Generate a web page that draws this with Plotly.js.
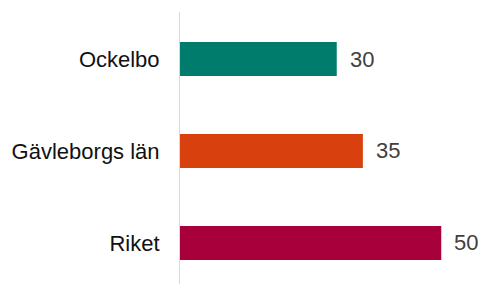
<!DOCTYPE html>
<html><head><meta charset="utf-8">
<script src="https://cdn.plot.ly/plotly-3.0.1.min.js"></script>
<style>html,body{margin:0;padding:0;background:#fff}</style>
</head><body><div id="chart" style="width:484px;height:284px"></div>
<script>
const categories = ["Ockelbo", "Gävleborgs län", "Riket"];
const values = [30, 35, 50];
const labels = ["30", "35", "50"];
const colors = ["#007c6c", "#d8410e", "#a8003b"];

const trace = {
  type: "bar", orientation: "h",
  x: values, y: categories,
  marker: {color: colors},
  width: 0.37,
  hoverinfo: "none"
};
const annotations = categories.map((c, i) => ({
  x: values[i], y: c, text: labels[i], showarrow: false,
  xanchor: "left", yanchor: "middle", xshift: 11,
  font: {family: "Liberation Sans, Arial, sans-serif", size: 22, color: "#404040"}
}));
const layout = {
  width: 484, height: 284,
  margin: {l: 180, r: 2, t: 12, b: 0},
  paper_bgcolor: "#fff", plot_bgcolor: "#fff",
  showlegend: false,
  font: {family: "Liberation Sans, Arial, sans-serif"},
  xaxis: {range: [0, 57.8], visible: false, fixedrange: true},
  yaxis: {
    type: "category", range: [2.446, -0.511],
    showline: true, linecolor: "#d9d9d9", linewidth: 1,
    showgrid: false, zeroline: false, ticks: "",
    ticklabelstandoff: 15,
    tickfont: {size: 22, color: "#111"}
  },
  annotations: annotations
};
Plotly.newPlot("chart", [trace], layout, {displayModeBar: false, staticPlot: true});
</script></body></html>
